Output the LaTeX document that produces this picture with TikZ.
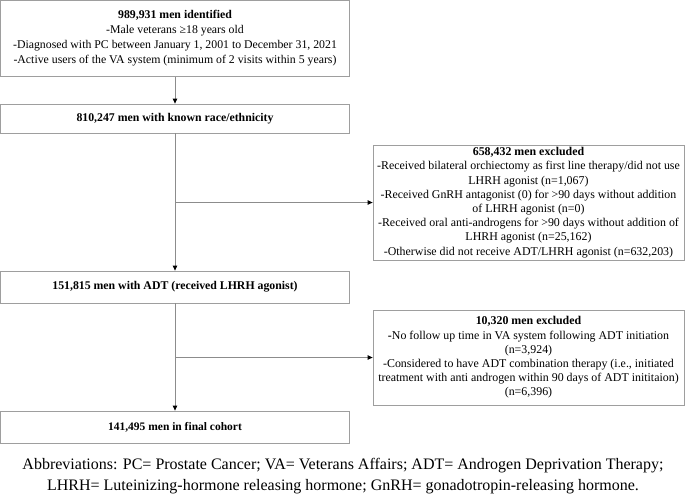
\documentclass[tikz,border=0pt]{standalone}
\usepackage{fontspec}
\setmainfont{Liberation Serif}
\usetikzlibrary{arrows.meta}
\begin{document}
\begin{tikzpicture}[x=1pt,y=-1pt,
  box/.style={draw=black!38, line width=0.8pt, inner sep=0pt, align=center,
    font=\fontsize{11.8}{15}\selectfont},
  exbox/.style={box, font=\fontsize{11.9}{14.2}\selectfont},
  conn/.style={draw=black!45, line width=0.8pt},
  arr/.style={conn, -{Triangle[color=black, length=5pt, width=4.5pt]}}
]
\useasboundingbox (0,0) rectangle (685,499);
\node[box, minimum width=349pt, minimum height=76pt] (b1) at (175,38.5)
  {\textbf{989,931 men identified}\\
   -Male veterans ≥18 years old\\
   -Diagnosed with PC between January 1, 2001 to December 31, 2021\\
   -Active users of the VA system (minimum of 2 visits within 5 years)};
\node[box, minimum width=349pt, minimum height=29pt] (b2) at (175,118.5)
  {\textbf{810,247 men with known race/ethnicity}};
\node[box, minimum width=349pt, minimum height=32pt] (b3) at (175,287)
  {\textbf{151,815 men with ADT (received LHRH agonist)}};
\node[box, minimum width=349pt, minimum height=32pt, font=\fontsize{11.5}{13}\selectfont] (b4) at (175,427)
  {\textbf{141,495 men in final cohort}};
\node[exbox, minimum width=311pt, minimum height=115pt] (e1) at (528.5,202.5)
  {\textbf{658,432 men excluded}\\
   -Received bilateral orchiectomy as first line therapy/did not use\\
   LHRH agonist (n=1,067)\\
   -Received GnRH antagonist (0) for >90 days without addition\\
   of LHRH agonist (n=0)\\
   -Received oral anti-androgens for >90 days without addition of\\
   LHRH agonist (n=25,162)\\
   -Otherwise did not receive ADT/LHRH agonist (n=632,203)};
\node[exbox, minimum width=311pt, minimum height=95pt] (e2) at (528.5,357.5)
  {\textbf{10,320 men excluded}\\
   \textbf{-}No follow up time in VA system following ADT initiation\\
   (n=3,924)\\
   -Considered to have ADT combination therapy (i.e., initiated\\
   treatment with anti androgen within 90 days of ADT inititaion)\\
   (n=6,396)};
\coordinate (j1) at (b2.south |- e1.west);
\coordinate (j2) at (b3.south |- e2.west);
\draw[arr] (b1.south) -- (b2.north);
\draw[arr] (b2.south) -- (b3.north);
\draw[arr] (j1) -- (e1.west);
\draw[arr] (b3.south) -- (b4.north);
\draw[arr] (j2) -- (e2.west);
\node[align=center, inner sep=0pt, font=\fontsize{16}{21}\selectfont] (cap) at (343,476.5)
  {Abbreviations: PC= Prostate Cancer; VA= Veterans Affairs; ADT= Androgen Deprivation Therapy;\\
   LHRH= Luteinizing-hormone releasing hormone; GnRH= gonadotropin-releasing hormone.};
\end{tikzpicture}
\end{document}
